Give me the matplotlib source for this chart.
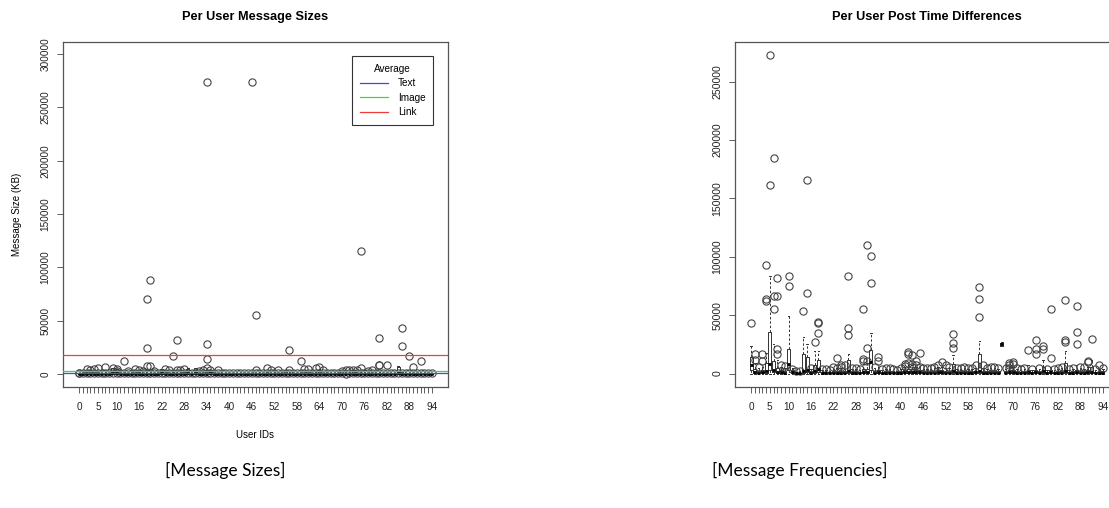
import matplotlib
matplotlib.use("Agg")
import matplotlib.pyplot as plt
import numpy as np

plt.rcParams['font.family'] = ['Liberation Sans', 'DejaVu Sans']

# ---- data ----
users = list(range(95))
shown_labels = [0, 5, 10, 16, 22, 28, 34, 40, 46, 52, 58, 64, 70, 76, 82, 88, 94]

# left panel: per user message sizes (KB)
size_q1 = [0] * 95
size_med = [200, 150, 250, 300, 200, 250, 150, 300, 200, 600, 500, 200, 250, 200, 150, 250,
            300, 200, 350, 400, 250, 200, 500, 250, 200, 300, 250, 200, 300, 600, 250, 600,
            200, 250, 400, 500, 200, 250, 150, 150, 150, 150, 150, 150, 150, 150, 250, 250,
            200, 150, 300, 250, 200, 250, 200, 400, 300, 200, 150, 250, 200, 250, 150, 300,
            400, 250, 150, 200, 150, 200, 400, 150, 250, 400, 250, 300, 200, 250, 200, 150,
            300, 200, 250, 200, 150, 600, 300, 200, 250, 200, 150, 250, 150, 150, 150]
size_q3 = [500, 400, 600, 700, 500, 600, 400, 700, 500, 5500, 4500, 400, 600, 500, 400, 600,
           700, 500, 800, 900, 600, 500, 4500, 600, 500, 700, 600, 500, 700, 5000, 600, 5500,
           500, 600, 2500, 3500, 500, 600, 400, 400, 400, 400, 400, 400, 400, 400, 600, 600,
           500, 400, 700, 600, 500, 600, 500, 2800, 700, 500, 400, 600, 500, 600, 400, 700,
           4000, 600, 400, 500, 400, 500, 2500, 400, 600, 3000, 600, 700, 500, 600, 500, 400,
           700, 500, 600, 500, 400, 7000, 700, 500, 600, 500, 400, 600, 400, 400, 400]
size_whi = [1000, 800, 1200, 1300, 1000, 1200, 800, 1400, 1000, 6000, 5000, 800, 1200, 1000, 800, 1200,
            1400, 1000, 1600, 1800, 1200, 1000, 5000, 1200, 1000, 1400, 1200, 1000, 1400, 5800, 1200, 6000,
            1000, 1200, 3500, 4000, 1000, 1200, 800, 800, 800, 800, 800, 800, 800, 800, 1200, 1200,
            1000, 800, 1400, 1200, 1000, 1200, 1000, 3500, 1400, 1000, 800, 1200, 1000, 1200, 800, 1400,
            4500, 1200, 800, 1000, 800, 1000, 3000, 800, 1200, 3500, 1200, 1400, 1000, 1200, 1000, 800,
            1400, 1000, 1200, 1000, 800, 7500, 1400, 1000, 1200, 1000, 800, 1200, 800, 800, 800]
size_fliers = [
    [600, 900], [700], [800, 4800], [900, 4200], [700, 4500], [800, 5200], [600], [900, 6500],
    [700], [1200, 5800], [1100, 3200, 4600], [700], [800, 11800], [700, 2500], [600], [800, 4300],
    [900, 3500], [700, 2800], [900, 7500, 24000, 70600], [1000, 7500, 88400], [800, 3200], [700],
    [600], [800, 4500], [700, 3800], [900, 16900], [800, 4200, 32200], [700, 3900], [900, 5100],
    [700], [600], [800], [700, 2600], [800, 3300], [1000, 6000, 14000, 28400, 274000], [900, 4100],
    [700], [800, 3600], [600], [600], [600], [600], [600], [600], [600], [600],
    [900, 274000], [800, 3500, 55600], [700], [600], [800, 6000], [900, 3900], [700], [800, 3500],
    [700], [600], [900, 4000, 22500], [700], [600], [800, 12500], [700, 4300], [800, 4600],
    [600], [900, 6000], [800, 7000], [700, 3800], [600], [700], [600], [700], [800, 2800],
    [0, 3500], [700, 3600], [800, 3700], [900, 4200], [1000, 6000, 115000], [700], [800, 3000],
    [700, 3600], [600], [900, 8100, 8600, 33700], [700], [800, 8100], [700], [600], [700],
    [900, 25900, 42800], [700], [800, 16900], [700, 6500], [600], [800, 11800], [600], [600], [600]]

avg_names = ['Text', 'Image', 'Link']
avg_values = [500, 3100, 17800]
avg_colors = ['#4646e6', '#3ad83a', '#f03c3c']

# right panel: per user post time differences
time_q1 = [2800, 500, 300, 400, 800, 2800, 1000, 500, 300, 300, 2800, 300, 200, 200, 800, 1000,
           300, 800, 1200, 200, 200, 200, 300, 300, 300, 300, 800, 300, 300, 200, 500, 500,
           2800, 300, 400, 200, 300, 300, 200, 200, 300, 400, 500, 500, 400, 400, 300, 300,
           300, 300, 400, 400, 300, 300, 800, 300, 300, 300, 300, 300, 400, 800, 300, 300,
           300, 300, 300, 24000, 300, 400, 400, 300, 200, 300, 500, 200, 500, 300, 600, 200,
           500, 200, 300, 300, 800, 200, 300, 500, 300, 300, 400, 400, 200, 300, 300]
time_med = [7000, 1500, 800, 1200, 2500, 8500, 3000, 1500, 1000, 900, 8000, 1000, 500, 500, 2000, 3000,
            800, 2500, 4000, 600, 600, 500, 800, 900, 900, 800, 2500, 800, 700, 600, 1500, 1500,
            10000, 900, 1200, 600, 800, 800, 500, 500, 700, 1200, 1500, 1500, 1200, 1200, 800, 700,
            800, 900, 1200, 1200, 900, 900, 2000, 800, 800, 900, 800, 700, 1000, 2000, 900, 800,
            900, 900, 700, 25000, 700, 1200, 1200, 800, 600, 700, 1200, 600, 1200, 800, 2000, 600,
            1200, 600, 800, 900, 2500, 600, 800, 1200, 900, 800, 1200, 1200, 600, 800, 800]
time_q3 = [14000, 4000, 2000, 3000, 9000, 35600, 11000, 5000, 3000, 2500, 21000, 3000, 800, 900, 16600, 14000,
           2000, 7000, 12000, 1500, 1500, 1200, 2000, 2500, 2500, 2000, 12000, 2000, 1800, 1500, 3500, 4000,
           20000, 2500, 3000, 1500, 2000, 2000, 1200, 1200, 1800, 3000, 3500, 3500, 3000, 3000, 2000, 1800,
           2000, 2500, 3000, 3000, 2500, 2500, 8000, 2000, 2000, 2500, 2000, 1800, 2500, 16600, 2500, 2000,
           2500, 2500, 1800, 26500, 1800, 3000, 3000, 2000, 1500, 1800, 3000, 1500, 3000, 2000, 6000, 1500,
           3000, 1500, 2000, 2500, 9000, 1500, 2000, 3000, 2500, 2000, 3000, 6000, 1500, 2000, 2000]
time_wlo = [0] * 67 + [23500] + [0] * 27
time_whi = [24000, 9000, 4500, 6000, 18000, 84000, 25000, 12000, 6000, 5000, 49000, 5000, 1500, 1800, 31000, 25000,
            4000, 19000, 19000, 3000, 3000, 2500, 4000, 5000, 5000, 4000, 17000, 4000, 3500, 3000, 8000, 9000,
            35000, 5000, 6000, 3000, 4000, 4000, 2500, 2500, 3500, 6000, 7000, 7000, 6000, 6000, 4000, 3500,
            4000, 5000, 6000, 6000, 5000, 5000, 16000, 4000, 4000, 5000, 4000, 3500, 5000, 27500, 5000, 4000,
            5000, 5000, 3500, 27000, 3500, 6000, 6000, 4000, 3000, 3500, 7000, 3000, 5000, 4000, 12000, 3000,
            6000, 3000, 4000, 5000, 19000, 3000, 4000, 7000, 5000, 4000, 6000, 12000, 3000, 4000, 4000]
time_fliers = [
    [43000], [12000, 16600], [6000], [11000, 16600], [62000, 63500, 93200], [161900, 272800],
    [55600, 66100, 185000], [16600, 20800, 66100, 81800], [7500], [6500], [75300, 83500], [3800],
    [2000], [2500], [53500], [69300, 166200], [5000], [26800], [35000, 43000, 44000], [4000],
    [3500], [3000], [5500], [5000, 13400], [6000, 7000], [7500], [33000, 39300, 83500], [5000],
    [4500], [4000], [10500, 12700, 55600], [10500, 21900, 110300], [77200, 100600], [6000],
    [10500, 14000], [4000], [5000], [4500], [3500], [3000], [4500], [6500, 8000],
    [9000, 16600, 18400], [6000, 8500, 15800], [7000, 11000], [6000, 17600], [5000], [4500],
    [5000], [5500], [7500], [10000], [7500], [6000], [22000, 26600, 34200], [5000], [5000],
    [6000], [5000], [4500], [7000], [48600, 63800, 73800], [7500], [5000], [6000], [6000],
    [4500], [], [4500], [5000, 7000, 9000], [8000, 10000], [4500], [4000], [4500], [20000],
    [4000], [17000, 21000, 28500], [5000], [21000, 24000], [4000], [13400, 55600], [4000],
    [5000], [6000], [27000, 29000, 63200], [4000], [5000], [25600, 35500, 57800], [6000],
    [5500], [10000, 11000], [30000], [4000], [7000], [5000]]


def make_stats(q1, med, q3, wlo, whi, fliers):
    stats = []
    for i in range(len(med)):
        stats.append({'q1': q1[i], 'med': med[i], 'q3': q3[i],
                      'whislo': wlo[i], 'whishi': whi[i], 'fliers': fliers[i]})
    return stats


def draw_boxes(ax, stats):
    ax.bxp(stats, positions=users, widths=0.8, showfliers=True, patch_artist=False,
           boxprops=dict(color='#333333', linewidth=0.7),
           medianprops=dict(color='black', linewidth=2.0),
           whiskerprops=dict(color='#333333', linewidth=0.7, linestyle=(0, (2.5, 2))),
           capprops=dict(color='#333333', linewidth=0.7),
           capwidths=0.4,
           flierprops=dict(marker='o', markerfacecolor='none', markeredgecolor='#444444',
                           markersize=5.2, markeredgewidth=0.8))
    ax.set_xlim(-4.3, 98.3)
    ax.set_xticks(users)
    ax.set_xticklabels([str(u) if u in shown_labels else '' for u in users])
    for sp in ax.spines.values():
        sp.set_color('#555555')
        sp.set_linewidth(0.9)
    ax.tick_params(axis='both', direction='out', length=4, width=0.6, color='#444444',
                   labelsize=7.2, labelcolor='#222222')
    ax.tick_params(axis='x', pad=7)
    ax.tick_params(axis='y', pad=5)


fig = plt.figure(figsize=(11.09, 5.08), dpi=100)

# left: message sizes
ax1 = fig.add_axes([63 / 1109, 121 / 508, 385 / 1109, 345 / 508])
draw_boxes(ax1, make_stats(size_q1, size_med, size_q3, [0] * 95, size_whi, size_fliers))
for name, val, col in zip(avg_names, avg_values, avg_colors):
    ax1.axhline(val, color=col, linewidth=0.9, label=name, zorder=3)
ax1.set_ylim(-12200, 311200)
yt1 = np.arange(0, 300001, 50000)
ax1.set_yticks(yt1)
ax1.set_yticklabels([str(v) for v in yt1], rotation=90, va='center')
ax1.set_title('Per User Message Sizes', fontsize=9.2, fontweight='bold', pad=16)
ax1.set_ylabel('Message Size (KB)', fontsize=7, labelpad=13)
ax1.set_xlabel('User IDs', fontsize=7, labelpad=13)
leg = ax1.legend(title='Average', loc='upper right', bbox_to_anchor=(0.961, 0.959),
                 borderaxespad=0, fontsize=7.2, title_fontsize=7.2, fancybox=False,
                 edgecolor='#333333', framealpha=1, handlelength=2.8, borderpad=0.75,
                 labelspacing=0.45, handletextpad=1.0)
leg.get_frame().set_linewidth(0.8)

# right: post time differences
ax2 = fig.add_axes([735 / 1109, 121 / 508, 384 / 1109, 345 / 508])
draw_boxes(ax2, make_stats(time_q1, time_med, time_q3, time_wlo, time_whi, time_fliers))
ax2.set_ylim(-11500, 284000)
yt2 = np.arange(0, 250001, 50000)
ax2.set_yticks(yt2)
ax2.set_yticklabels([str(v) for v in yt2], rotation=90, va='center', fontsize=7.6)
ax2.set_title('Per User Post Time Differences', fontsize=9.2, fontweight='bold', pad=16)

# captions under the panels
fig.text(225 / 1109, 1 - 470 / 508, '[Message Sizes]', fontsize=12.5, family=['Lato', 'DejaVu Sans'],
         ha='center', va='center')
fig.text(800 / 1109, 1 - 470 / 508, '[Message Frequencies]', fontsize=12.5, family=['Lato', 'DejaVu Sans'],
         ha='center', va='center')

fig.savefig('out.png', dpi=100)
